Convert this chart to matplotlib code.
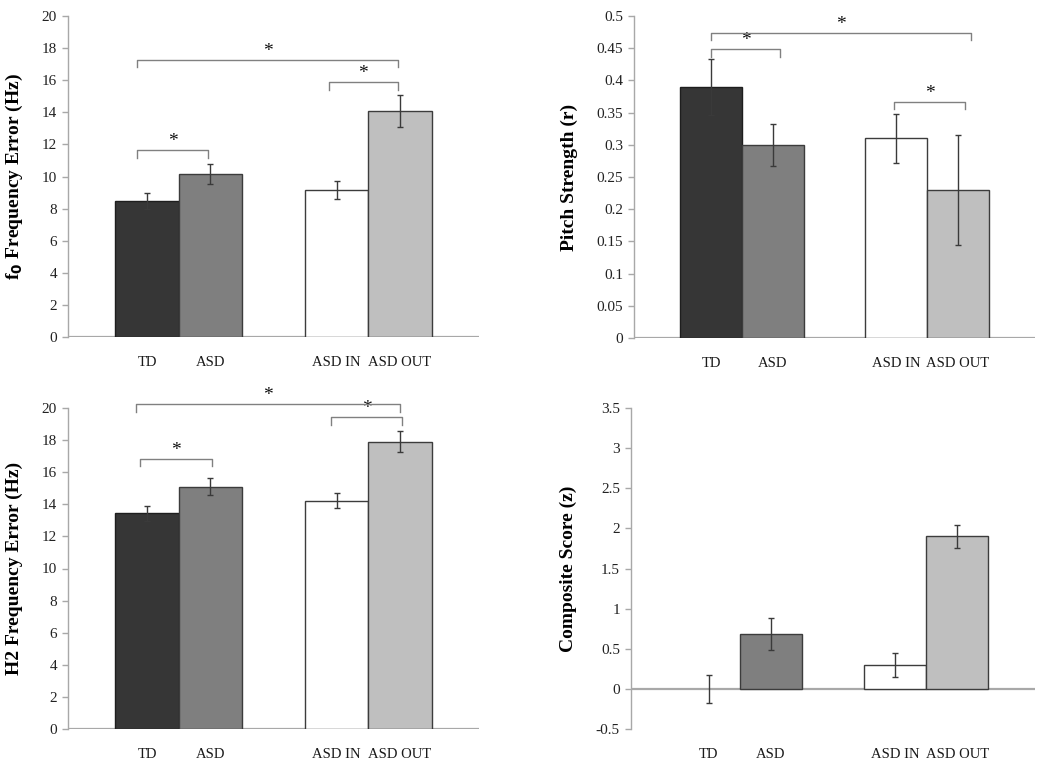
import matplotlib
matplotlib.use("Agg")
import matplotlib.pyplot as plt
from matplotlib.ticker import MultipleLocator, FuncFormatter

plt.rcParams['font.family'] = ['Liberation Serif', 'DejaVu Serif']

# ---- data ----
categories = ["TD", "ASD", "ASD IN", "ASD OUT"]

f0_mean = [8.5, 10.15, 9.15, 14.1]
f0_err = [0.5, 0.6, 0.55, 1.0]

pitch_mean = [0.39, 0.30, 0.31, 0.23]
pitch_err = [0.044, 0.033, 0.038, 0.085]

h2_mean = [13.45, 15.1, 14.23, 17.9]
h2_err = [0.47, 0.52, 0.48, 0.67]

comp_mean = [0.0, 0.685, 0.30, 1.90]
comp_err = [0.17, 0.195, 0.15, 0.14]

# significance brackets: (x left, x right, y level, drop)
f0_brackets = [(-0.16, 0.97, 11.67, 0.5), (-0.16, 3.97, 17.26, 0.46), (2.87, 3.97, 15.89, 0.48)]
pitch_brackets = [(0.0, 1.12, 0.449, 0.012), (0.0, 4.22, 0.474, 0.012), (2.97, 4.12, 0.367, 0.011)]
h2_brackets = [(-0.11, 1.02, 16.85, 0.48), (-0.17, 4.0, 20.23, 0.48), (2.91, 4.03, 19.44, 0.48)]

# ---- style ----
X = [0, 1, 3, 4]
FILLS = ['#363636', '#7f7f7f', '#ffffff', '#bfbfbf']
EDGES = ['#1e1e1e', '#3c3c3c', '#3c3c3c', '#3c3c3c']
AXIS_GRAY = '#a8a8a8'
BRACKET_GRAY = '#808080'

W, H = 1050, 771
fig = plt.figure(figsize=(W / 100, H / 100), dpi=100)


def px_axes(l, r, t, b):
    return fig.add_axes([l / W, 1 - b / H, (r - l) / W, (b - t) / H])


panels = [
    (px_axes(68, 479, 16, 337), f0_mean, f0_err, f0_brackets,
     (0, 20), 2, r'f$_\mathbf{0}$ Frequency Error (Hz)', -0.105),
    (px_axes(634, 1035, 16, 338), pitch_mean, pitch_err, pitch_brackets,
     (0, 0.5), 0.05, 'Pitch Strength (r)', -0.14),
    (px_axes(68, 479, 408, 729), h2_mean, h2_err, h2_brackets,
     (0, 20), 2, 'H2 Frequency Error (Hz)', -0.11),
    (px_axes(631, 1035, 408, 729), comp_mean, comp_err, [],
     (-0.5, 3.5), 0.5, 'Composite Score (z)', -0.134),
]

for ax, mean, err, brackets, ylim, step, ylabel, lx in panels:
    lws = [0 if m == 0 else 1.0 for m in mean]
    ax.bar(X, mean, width=1.0, color=FILLS, edgecolor=EDGES, linewidth=lws, zorder=2)
    ax.errorbar(X, mean, yerr=err, fmt='none', ecolor='#3a3a3a', elinewidth=1.0,
                capsize=2, capthick=1.0, zorder=3)

    ax.set_xlim(-1.25, 5.25)
    ax.set_ylim(*ylim)
    ax.yaxis.set_major_locator(MultipleLocator(step))
    ax.yaxis.set_major_formatter(FuncFormatter(lambda v, p: f"{round(v, 4):g}"))

    for s in ['top', 'right', 'bottom']:
        ax.spines[s].set_visible(False)
    ax.spines['left'].set_color(AXIS_GRAY)
    ax.spines['left'].set_linewidth(1.0)
    ax.axhline(0, color=AXIS_GRAY, linewidth=1.6, zorder=1)

    ax.set_xticks(X)
    ax.set_xticklabels(categories)
    ax.tick_params(axis='x', length=0, pad=14, labelsize=10.5, colors='#1a1a1a')
    ax.tick_params(axis='y', direction='out', length=4, width=1, color=AXIS_GRAY,
                   labelsize=11, labelcolor='#222222', pad=4)

    ax.set_ylabel(ylabel, fontsize=14, fontweight='bold')
    ax.yaxis.set_label_coords(lx, 0.5)

    for x1, x2, y, d in brackets:
        ax.plot([x1, x1, x2, x2], [y - d, y, y, y - d], color=BRACKET_GRAY,
                linewidth=1.0, clip_on=False, zorder=4)
        ax.text((x1 + x2) / 2, y, '*', ha='center', va='bottom', fontsize=14,
                color='#111111', clip_on=False)

fig.savefig('out.png', dpi=100)
